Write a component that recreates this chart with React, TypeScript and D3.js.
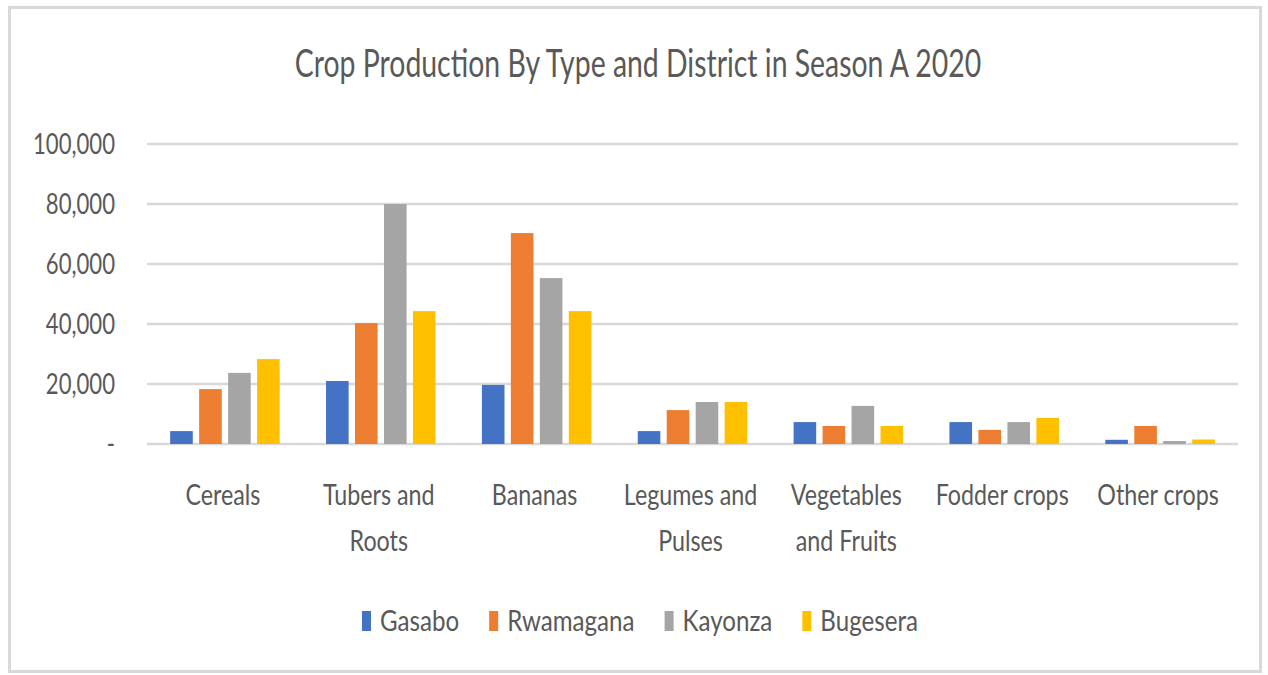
import React, { useMemo } from "react";
import * as d3 from "d3";

const title = "Crop Production By Type and District in Season A 2020";
const categories = [
  ["Cereals"],
  ["Tubers and", "Roots"],
  ["Bananas"],
  ["Legumes and", "Pulses"],
  ["Vegetables", "and Fruits"],
  ["Fodder crops"],
  ["Other crops"],
];
const seriesNames = ["Gasabo", "Rwamagana", "Kayonza", "Bugesera"];
const gasabo = [4300, 21000, 19700, 4300, 7300, 7300, 1400];
const rwamagana = [18300, 40300, 70300, 11300, 6000, 4700, 6000];
const kayonza = [23700, 80000, 55300, 14000, 12700, 7300, 1000];
const bugesera = [28300, 44300, 44300, 14000, 6000, 8700, 1500];
const yTicks = [0, 20000, 40000, 60000, 80000, 100000];
const colors = ["#4472C4", "#ED7D31", "#A5A5A5", "#FFC000"];

const W = 1268;
const H = 675;
const FONT = "Lato";
const TEXT = "#595959";

function measure(txt: string, size: number) {
  const c = document.createElement("canvas").getContext("2d")!;
  c.font = `${size}px ${FONT}`;
  return c.measureText(txt).width;
}

function CText(props: {
  x: number; y: number; sx: number; size: number; anchor?: string; children: string;
}) {
  const { x, y, sx, size, anchor = "middle", children } = props;
  return (
    <text
      transform={`translate(${x},${y}) scale(${sx},1)`}
      textAnchor={anchor}
      fontFamily={FONT}
      fontSize={size}
      fill={TEXT}
    >
      {children}
    </text>
  );
}

export default function App() {
  const values = [gasabo, rwamagana, kayonza, bugesera];
  const x0 = 147, x1 = 1238, yTop = 144, yBot = 444;

  const x = d3.scaleBand<number>().domain(d3.range(categories.length)).range([x0, x1]).padding(0);
  const xs = d3.scaleBand<number>().domain(d3.range(seriesNames.length)).range([0, x.bandwidth()])
    .paddingInner(0.22).paddingOuter(0.8);
  const y = d3.scaleLinear().domain([0, 100000]).range([yBot, yTop]);
  const fmt = d3.format(",");

  const legSize = 28;
  const sc = useMemo(() => {
    const titleS = 690 / measure(title, 39);
    const tickS = 82 / measure("100,000", 28);
    const catS = 75 / measure("Cereals", 28);
    const legS = 394 / d3.sum(seriesNames, (n) => measure(n, legSize));
    return { titleS, tickS, catS, legS };
  }, []);

  // legend layout
  const sqW = 9, sqH = 20, sqGap = 9, itemGap = 30;
  const legWidths = seriesNames.map((n) => measure(n, legSize) * sc.legS);
  const itemW = legWidths.map((w) => sqW + sqGap + w);
  const totalLeg = d3.sum(itemW) + itemGap * (seriesNames.length - 1);
  let cursor = 640 - totalLeg / 2;
  const legX = itemW.map((w) => {
    const s = cursor;
    cursor += w + itemGap;
    return s;
  });

  return (
    <svg width={W} height={H} style={{ position: "absolute", left: 0, top: 0 }}>
      <rect x={0} y={0} width={W} height={H} fill="#fff" />
      <rect x={9.5} y={7.5} width={1251} height={664} fill="none" stroke="#D9D9D9" strokeWidth={3} />
      <CText x={638} y={77} sx={sc.titleS} size={39}>{title}</CText>

      {yTicks.map((t) => (
        <g key={t}>
          <line x1={x0} x2={x1} y1={y(t)} y2={y(t)} stroke="#D9D9D9" strokeWidth={2.5} />
          <CText x={115} y={y(t) + 10} sx={sc.tickS} size={28} anchor="end">
            {t === 0 ? "-" : fmt(t)}
          </CText>
        </g>
      ))}

      {categories.map((_, ci) =>
        values.map((vals, si) => (
          <rect
            key={`${ci}-${si}`}
            x={(x(ci) as number) + (xs(si) as number)}
            y={y(vals[ci])}
            width={xs.bandwidth()}
            height={yBot - y(vals[ci])}
            fill={colors[si]}
          />
        ))
      )}

      {categories.map((lines, ci) =>
        lines.map((ln, li) => (
          <CText
            key={`${ci}-${li}`}
            x={(x(ci) as number) + x.bandwidth() / 2 - 2}
            y={505 + li * 46}
            sx={sc.catS}
            size={28}
          >
            {ln}
          </CText>
        ))
      )}

      {seriesNames.map((n, i) => (
        <g key={n}>
          <rect x={legX[i]} y={611} width={sqW} height={sqH} fill={colors[i]} />
          <CText x={legX[i] + sqW + sqGap} y={631} sx={sc.legS} size={legSize} anchor="start">
            {n}
          </CText>
        </g>
      ))}
    </svg>
  );
}
